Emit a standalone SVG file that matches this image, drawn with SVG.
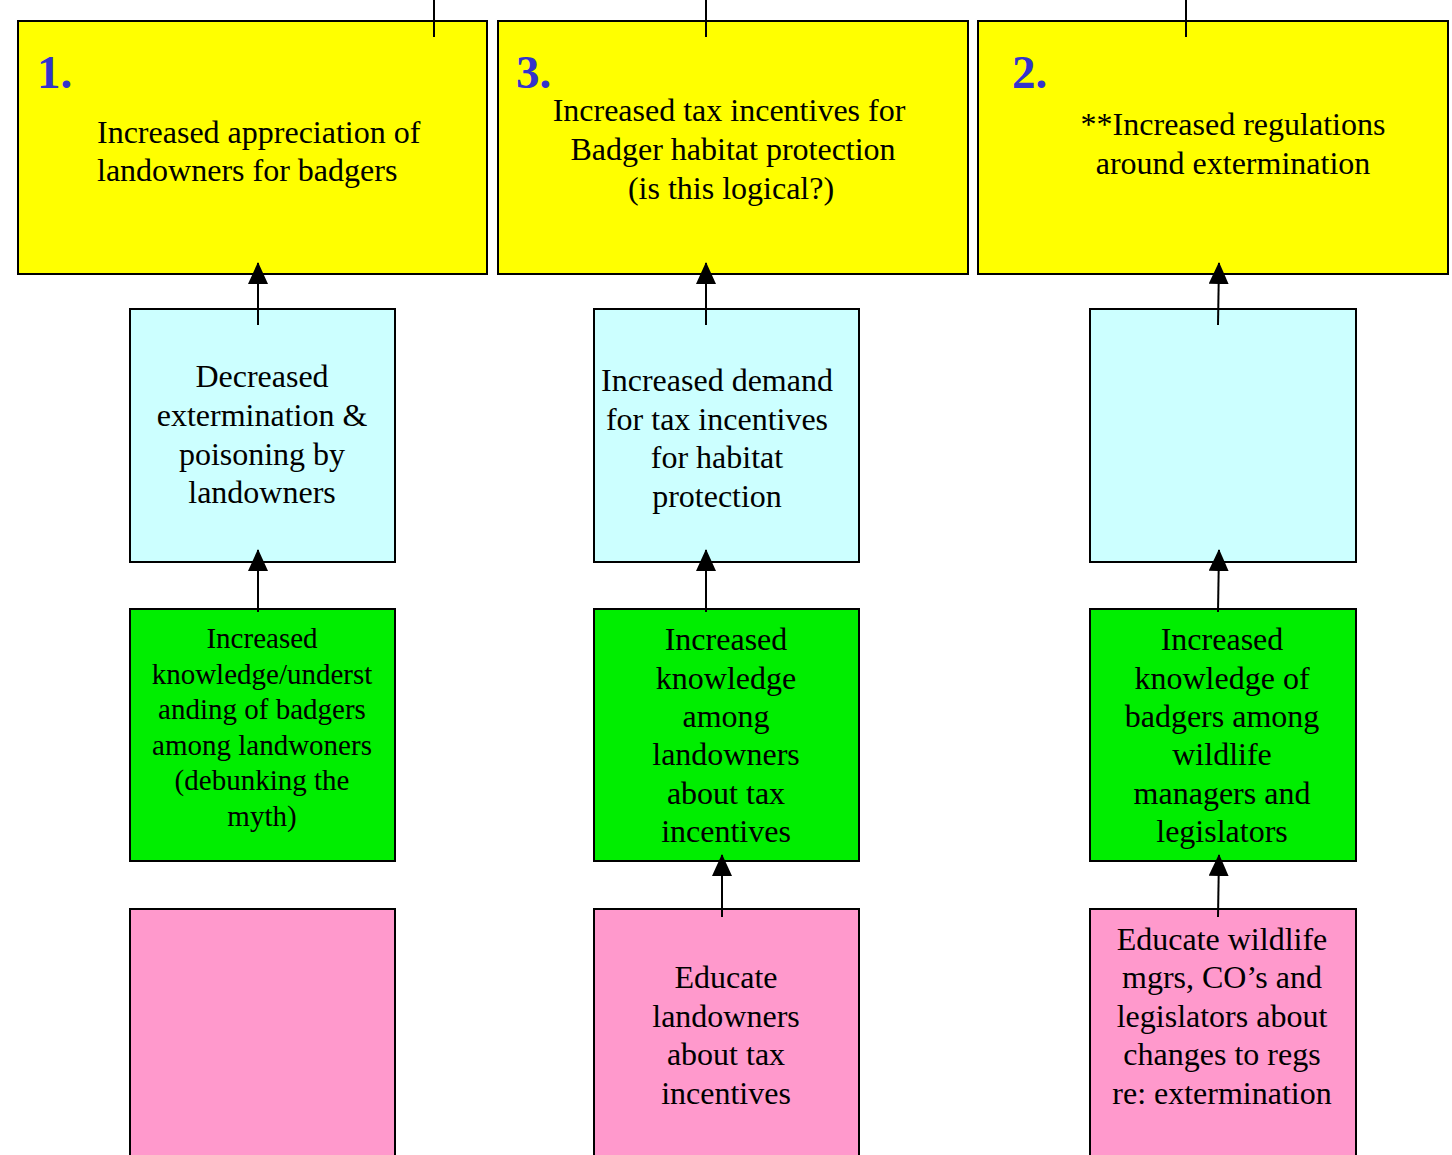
<svg xmlns="http://www.w3.org/2000/svg" width="1452" height="1155" viewBox="0 0 1452 1155">
<style>
.box{stroke:#000;stroke-width:2}
.y{fill:#ffff00}.c{fill:#ccffff}.g{fill:#00ee00}.p{fill:#ff99cc}
text{font-family:"Liberation Serif","Times New Roman",serif;fill:#000}
.t{font-size:32px;text-anchor:middle}
.t2{font-size:29px;text-anchor:middle}
.num{font-size:47px;font-weight:bold;fill:#3333cc}
.ln{stroke:#000;stroke-width:2;fill:none}
</style>
<defs>
<marker id="ah" viewBox="0 0 22 20" refX="21" refY="10" markerWidth="22" markerHeight="20" markerUnits="userSpaceOnUse" orient="auto">
<path d="M0,0 L22,10 L0,20 z" fill="#000"/>
</marker>
</defs>
<g id="y1"><rect class="box y" x="18" y="21" width="469" height="253"/>
<text class="num" x="37" y="88">1.</text>
<text style="font-size:32px" x="97" y="143">Increased appreciation of</text>
<text style="font-size:32px" x="97" y="181">landowners for badgers</text></g>
<g id="y3"><rect class="box y" x="498" y="21" width="470" height="253"/>
<text class="num" x="516" y="88">3.</text>
<text class="t" x="729" y="121">Increased tax incentives for</text>
<text class="t" x="733" y="160">Badger habitat protection</text>
<text class="t" x="731" y="199">(is this logical?)</text></g>
<g id="y2"><rect class="box y" x="978" y="21" width="470" height="253"/>
<text class="num" x="1012" y="88">2.</text>
<text class="t" x="1233" y="135">**Increased regulations</text>
<text class="t" x="1233" y="174">around extermination</text></g>
<g id="c1"><rect class="box c" x="130" y="309" width="265" height="253"/>
<text class="t" x="262" y="387">Decreased</text>
<text class="t" x="262" y="426">extermination &amp;</text>
<text class="t" x="262" y="465">poisoning by</text>
<text class="t" x="262" y="503">landowners</text></g>
<g id="c2"><rect class="box c" x="594" y="309" width="265" height="253"/>
<text class="t" x="717" y="391">Increased demand</text>
<text class="t" x="717" y="430">for tax incentives</text>
<text class="t" x="717" y="468">for habitat</text>
<text class="t" x="717" y="507">protection</text></g>
<g id="c3"><rect class="box c" x="1090" y="309" width="266" height="253"/></g>
<g id="g1"><rect class="box g" x="130" y="609" width="265" height="252"/>
<text class="t2" x="262" y="648">Increased</text>
<text class="t2" x="262" y="684">knowledge/underst</text>
<text class="t2" x="262" y="719">anding of badgers</text>
<text class="t2" x="262" y="755">among landwoners</text>
<text class="t2" x="262" y="790">(debunking the</text>
<text class="t2" x="262" y="826">myth)</text></g>
<g id="g2"><rect class="box g" x="594" y="609" width="265" height="252"/>
<text class="t" x="726" y="650">Increased</text>
<text class="t" x="726" y="689">knowledge</text>
<text class="t" x="726" y="727">among</text>
<text class="t" x="726" y="765">landowners</text>
<text class="t" x="726" y="804">about tax</text>
<text class="t" x="726" y="842">incentives</text></g>
<g id="g3"><rect class="box g" x="1090" y="609" width="266" height="252"/>
<text class="t" x="1222" y="650">Increased</text>
<text class="t" x="1222" y="689">knowledge of</text>
<text class="t" x="1222" y="727">badgers among</text>
<text class="t" x="1222" y="765">wildlife</text>
<text class="t" x="1222" y="804">managers and</text>
<text class="t" x="1222" y="842">legislators</text></g>
<g id="p1"><rect class="box p" x="130" y="909" width="265" height="260"/></g>
<g id="p2"><rect class="box p" x="594" y="909" width="265" height="260"/>
<text class="t" x="726" y="988">Educate</text>
<text class="t" x="726" y="1027">landowners</text>
<text class="t" x="726" y="1065">about tax</text>
<text class="t" x="726" y="1104">incentives</text></g>
<g id="p3"><rect class="box p" x="1090" y="909" width="266" height="260"/>
<text class="t" x="1222" y="950">Educate wildlife</text>
<text class="t" x="1222" y="988">mgrs, CO’s and</text>
<text class="t" x="1222" y="1027">legislators about</text>
<text class="t" x="1222" y="1065">changes to regs</text>
<text class="t" x="1222" y="1104">re: extermination</text></g>
<g id="connectors">
<line class="ln" x1="434" y1="0" x2="434" y2="37"/>
<line class="ln" x1="706" y1="0" x2="706" y2="37"/>
<line class="ln" x1="1186" y1="0" x2="1186" y2="37"/>
<line class="ln" x1="258" y1="325" x2="258" y2="263" marker-end="url(#ah)"/>
<line class="ln" x1="706" y1="325" x2="706" y2="263" marker-end="url(#ah)"/>
<line class="ln" x1="1218" y1="325" x2="1219" y2="263" marker-end="url(#ah)"/>
<line class="ln" x1="258" y1="612" x2="258" y2="550" marker-end="url(#ah)"/>
<line class="ln" x1="706" y1="612" x2="706" y2="550" marker-end="url(#ah)"/>
<line class="ln" x1="1218" y1="612" x2="1219" y2="550" marker-end="url(#ah)"/>
<line class="ln" x1="722" y1="917" x2="722" y2="855" marker-end="url(#ah)"/>
<line class="ln" x1="1218" y1="917" x2="1219" y2="855" marker-end="url(#ah)"/>
</g>
</svg>
